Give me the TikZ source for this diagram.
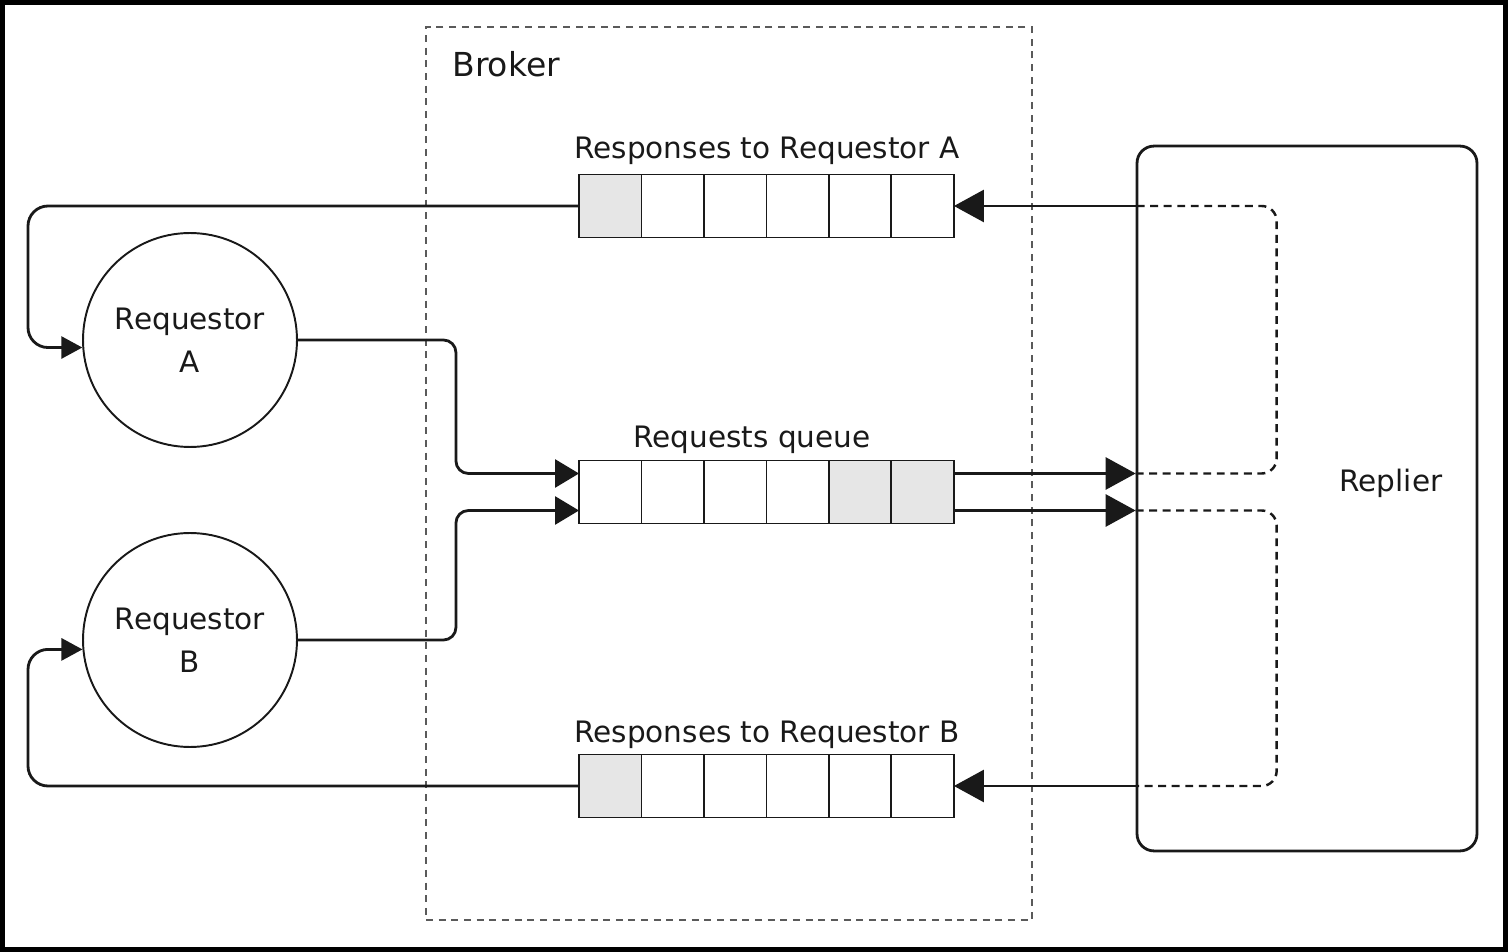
\documentclass[tikz,border=0pt]{standalone}
\usepackage{fontspec}
\setmainfont{DejaVu Sans}
\definecolor{QueueGray}{RGB}{230, 230, 230}
\definecolor{BrokerGray}{RGB}{90, 90, 90}
\definecolor{InkBlack}{RGB}{25, 25, 25}
\usetikzlibrary{arrows.meta, positioning, calc}

\begin{document}
\begin{tikzpicture}[
            x=0.02cm, y=-0.02cm,
            cell/.style={rectangle, draw=InkBlack, line width=1.1pt, minimum width=1.25cm, minimum height=1.26cm, inner sep=0pt, outer sep=0pt},
            actor/.style={circle, draw=InkBlack, line width=1.1pt, minimum size=4.28cm, inner sep=0pt, align=center, text=InkBlack, font=\fontsize{16.8}{24.2}\selectfont},
            lbl/.style={inner sep=0pt, anchor=base, text=InkBlack, font=\fontsize{16.8}{20}\selectfont},
            conn/.style={draw=InkBlack, line width=1.6pt},
            tipS/.style={-{Triangle[length=0.42cm, width=0.44cm]}},
            tipM/.style={-{Triangle[length=0.48cm, width=0.56cm]}},
            tipL/.style={-{Triangle[length=0.6cm, width=0.64cm]}},
            dashline/.style={draw=InkBlack, line width=1.4pt, dash pattern=on 4.5pt off 3.2pt},
        ]
            \useasboundingbox (0,0) rectangle (1508,952);
            \draw[line width=5.7pt] (0,0) rectangle (1508,952);

            \node[draw=BrokerGray, line width=1.1pt, dash pattern=on 4pt off 3.2pt, minimum width=12.12cm, minimum height=17.86cm] (broker) at (729,473.5) {};
            \node[lbl, anchor=base west, font=\fontsize{18.8}{22}\selectfont] (brokerlbl) at (452,77) {Broker};

            \node[draw=InkBlack, line width=1.6pt, rounded corners=0.34cm, minimum width=6.8cm, minimum height=14.1cm] (replier) at (1307,498.5) {};
            \node[lbl] (replierlbl) at (1391,492) {Replier};

            \node[actor] (reqA) at (190,340) {Requestor\\A};
            \node[actor] (reqB) at (190,640) {Requestor\\B};

            % responses to A
            \node[cell, fill=QueueGray] (ra1) at (610.25,206) {};
            \node[cell, right=0pt of ra1] (ra2) {};
            \node[cell, right=0pt of ra2] (ra3) {};
            \node[cell, right=0pt of ra3] (ra4) {};
            \node[cell, right=0pt of ra4] (ra5) {};
            \node[cell, right=0pt of ra5] (ra6) {};
            \node[lbl] (ralbl) at (767,159) {Responses to Requestor A};

            % requests
            \node[cell] (rq1) at (610.25,492) {};
            \node[cell, right=0pt of rq1] (rq2) {};
            \node[cell, right=0pt of rq2] (rq3) {};
            \node[cell, right=0pt of rq3] (rq4) {};
            \node[cell, fill=QueueGray, right=0pt of rq4] (rq5) {};
            \node[cell, fill=QueueGray, right=0pt of rq5] (rq6) {};
            \node[lbl] (rqlbl) at (752,448) {Requests queue};

            % responses to B
            \node[cell, fill=QueueGray] (rb1) at (610.25,786) {};
            \node[cell, right=0pt of rb1] (rb2) {};
            \node[cell, right=0pt of rb2] (rb3) {};
            \node[cell, right=0pt of rb3] (rb4) {};
            \node[cell, right=0pt of rb4] (rb5) {};
            \node[cell, right=0pt of rb5] (rb6) {};
            \node[lbl] (rblbl) at (767,742) {Responses to Requestor B};

            \coordinate (outA) at ($(rq6.east)+(0,-18.5)$);
            \coordinate (outB) at ($(rq6.east)+(0,18.5)$);

            \draw[conn, tipS, rounded corners=0.4cm] (ra1.west) -- ++(-551,0) |- (reqA.184);
            \draw[conn, tipS, rounded corners=0.4cm] (rb1.west) -- ++(-551,0) |- (reqB.185);
            \draw[conn, tipM, rounded corners=0.25cm] (reqA.east) -- ++(158,0) |- ($(rq1.west)+(0,-18.5)$);
            \draw[conn, tipM, rounded corners=0.25cm] (reqB.east) -- ++(158,0) |- ($(rq1.west)+(0,18.5)$);

            \draw[conn, tipL] (outA) -- (outA -| replier.west);
            \draw[conn, tipL] (outB) -- (outB -| replier.west);
            \draw[conn, tipL] (ra6.east -| replier.west) -- (ra6.east);
            \draw[conn, tipL] (rb6.east -| replier.west) -- (rb6.east);

            \draw[dashline, rounded corners=0.3cm] (outA -| replier.west) -- ++(141,0) |- (ra6.east -| replier.west);
            \draw[dashline, rounded corners=0.3cm] (outB -| replier.west) -- ++(141,0) |- (rb6.east -| replier.west);
        \end{tikzpicture}
\end{document}
